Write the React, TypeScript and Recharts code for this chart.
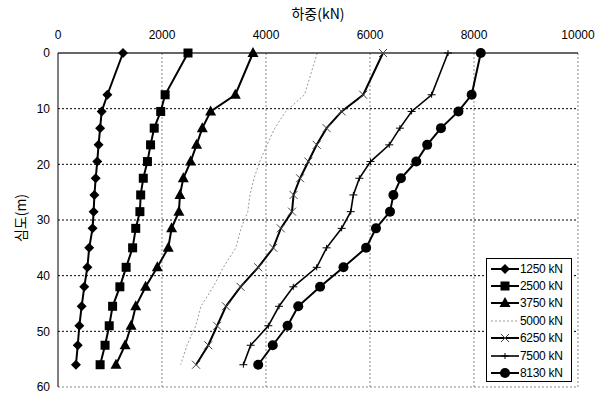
import React from "react";
import {
  CartesianGrid,
  Legend,
  Line,
  LineChart,
  ReferenceLine,
  XAxis,
  YAxis,
} from "recharts";

// depth (m) of each gauge level, shared by every load step
const depths = [0, 7.5, 10.5, 13.5, 16.5, 19.5, 22.5, 25.5, 28.5, 31.5, 35, 38.5, 42, 45.5, 49, 52.5, 56];

// axial force (kN) at each depth, one array per applied head load
const load1250 = [1250, 950, 840, 810, 780, 755, 725, 700, 685, 665, 600, 565, 505, 455, 410, 380, 345];
const load2500 = [2500, 2060, 1975, 1850, 1780, 1720, 1640, 1590, 1575, 1495, 1435, 1310, 1190, 1050, 985, 905, 810];
const load3750 = [3750, 3410, 2935, 2775, 2665, 2550, 2410, 2345, 2325, 2185, 2120, 1910, 1685, 1495, 1405, 1290, 1115];
const load5000 = [4985, 4740, 4380, 4170, 4020, 3880, 3770, 3690, 3650, 3520, 3420, 3180, 2985, 2750, 2650, 2480, 2360];
const load6250 = [6250, 5870, 5455, 5165, 4975, 4815, 4655, 4530, 4500, 4285, 4140, 3850, 3510, 3230, 3060, 2890, 2655];
const load7500 = [7500, 7185, 6800, 6575, 6370, 6010, 5795, 5680, 5630, 5455, 5165, 4975, 4525, 4250, 4045, 3705, 3565];
const load8130 = [8130, 7955, 7700, 7365, 7100, 6890, 6595, 6450, 6385, 6115, 5925, 5490, 5040, 4620, 4415, 4130, 3850];

const seriesLabels = ["1250 kN", "2500 kN", "3750 kN", "5000 kN", "6250 kN", "7500 kN", "8130 kN"];
const xTicks = [0, 2000, 4000, 6000, 8000, 10000];
const yTicks = [0, 10, 20, 30, 40, 50, 60];

const FONT = "'Liberation Sans', Arial, sans-serif";
const KFONT = "'Noto Sans CJK KR', 'Noto Sans', sans-serif";

type MarkerKind = "diamond" | "square" | "triangle" | "none" | "cross" | "plus" | "circle";

interface SeriesStyle {
  key: string;
  label: string;
  marker: MarkerKind;
  stroke: string;
  width: number;
  dash?: string;
}

const seriesStyles: SeriesStyle[] = [
  { key: "s1250", label: seriesLabels[0], marker: "diamond", stroke: "#000", width: 2 },
  { key: "s2500", label: seriesLabels[1], marker: "square", stroke: "#000", width: 2 },
  { key: "s3750", label: seriesLabels[2], marker: "triangle", stroke: "#000", width: 2 },
  { key: "s5000", label: seriesLabels[3], marker: "none", stroke: "#9a9a9a", width: 1, dash: "2 2" },
  { key: "s6250", label: seriesLabels[4], marker: "cross", stroke: "#000", width: 2 },
  { key: "s7500", label: seriesLabels[5], marker: "plus", stroke: "#000", width: 1.6 },
  { key: "s8130", label: seriesLabels[6], marker: "circle", stroke: "#000", width: 2 },
];

const loads = [load1250, load2500, load3750, load5000, load6250, load7500, load8130];

// one row per depth; in vertical layout each line takes x from its value and y from depth
const data = depths.map((depth, i) => {
  const row: Record<string, number> = { depth };
  seriesStyles.forEach((s, j) => {
    row[s.key] = loads[j][i];
  });
  return row;
});

function Marker({ kind, cx, cy }: { kind: MarkerKind; cx: number; cy: number }) {
  switch (kind) {
    case "diamond":
      return <polygon points={`${cx},${cy - 5} ${cx + 5},${cy} ${cx},${cy + 5} ${cx - 5},${cy}`} fill="#000" />;
    case "square":
      return <rect x={cx - 4.5} y={cy - 4.5} width={9} height={9} fill="#000" />;
    case "triangle":
      return <polygon points={`${cx},${cy - 6} ${cx + 5.5},${cy + 4} ${cx - 5.5},${cy + 4}`} fill="#000" />;
    case "circle":
      return <circle cx={cx} cy={cy} r={5} fill="#000" />;
    case "cross":
      return (
        <g stroke="#444" strokeWidth={1}>
          <line x1={cx - 4} y1={cy - 4} x2={cx + 4} y2={cy + 4} />
          <line x1={cx - 4} y1={cy + 4} x2={cx + 4} y2={cy - 4} />
        </g>
      );
    case "plus":
      return (
        <g stroke="#000" strokeWidth={1}>
          <line x1={cx - 4} y1={cy} x2={cx + 4} y2={cy} />
          <line x1={cx} y1={cy - 3} x2={cx} y2={cy + 3} />
        </g>
      );
    default:
      return null;
  }
}

function makeDot(kind: MarkerKind) {
  return (props: any) => {
    const { cx, cy, index } = props;
    if (cx == null || cy == null) return <g key={`${kind}-${index}`} />;
    return (
      <g key={`${kind}-${index}`}>
        <Marker kind={kind} cx={cx} cy={cy} />
      </g>
    );
  };
}

function XTitle(props: any) {
  const vb = props.viewBox || { x: 58, width: 520 };
  return (
    <text x={vb.x + vb.width / 2} y={19} textAnchor="middle" fontFamily={KFONT} fontSize={14} fill="#000">
      하중(kN)
    </text>
  );
}

function YTitle() {
  return (
    <text
      x={20}
      y={218}
      transform="rotate(-90 20 218)"
      textAnchor="middle"
      dominantBaseline="central"
      fontFamily={KFONT}
      fontSize={14}
      fill="#000"
    >
      심도(m)
    </text>
  );
}

function LegendBox() {
  return (
    <div
      style={{
        border: "1px solid #000",
        background: "#fff",
        width: 86,
        height: 124,
        boxSizing: "border-box",
        paddingTop: 1,
        fontFamily: FONT,
        fontSize: 12,
        color: "#000",
      }}
    >
      {seriesStyles.map((s) => (
        <div key={s.key} style={{ display: "flex", alignItems: "center", height: 17.4 }}>
          <svg width={33} height={12} style={{ display: "block" }}>
            <line
              x1={4}
              y1={6}
              x2={32}
              y2={6}
              stroke={s.stroke}
              strokeWidth={s.width}
              strokeDasharray={s.dash}
            />
            <Marker kind={s.marker} cx={18} cy={6} />
          </svg>
          <span style={{ whiteSpace: "nowrap", letterSpacing: -0.3 }}>{s.label}</span>
        </div>
      ))}
    </div>
  );
}

export default function App() {
  return (
    <div style={{ position: "absolute", left: 0, top: 0, background: "#fff" }}>
      <LineChart
        width={595}
        height={396}
        data={data}
        layout="vertical"
        margin={{ top: 23, right: 17, bottom: 9, left: 0 }}
      >
        <CartesianGrid
          horizontal={false}
          verticalValues={[2000, 4000, 6000, 8000, 10000]}
          stroke="#8a8a8a"
          strokeDasharray="2 2"
        />
        <CartesianGrid
          vertical={false}
          horizontalValues={[10, 20, 30, 40, 50]}
          stroke="#000"
          strokeDasharray="2 2"
        />
        <ReferenceLine y={60} stroke="#8a8a8a" strokeDasharray="2 2" />
        <XAxis
          type="number"
          orientation="top"
          domain={[0, 10000]}
          ticks={xTicks}
          height={30}
          tickSize={0}
          tickMargin={14}
          axisLine={{ stroke: "#333", strokeWidth: 1.5 }}
          tick={{ fill: "#000", fontSize: 12, fontFamily: FONT }}
          label={<XTitle />}
        />
        <YAxis
          type="number"
          dataKey="depth"
          domain={[0, 60]}
          ticks={yTicks}
          width={58}
          tickSize={0}
          tickMargin={8}
          axisLine={{ stroke: "#000" }}
          tick={{ fill: "#000", fontSize: 12, fontFamily: FONT }}
          label={<YTitle />}
        />
        {seriesStyles.map((s) => (
          <Line
            key={s.key}
            dataKey={s.key}
            name={s.label}
            stroke={s.stroke}
            strokeWidth={s.width}
            strokeDasharray={s.dash}
            dot={makeDot(s.marker)}
            activeDot={false}
            isAnimationActive={false}
          />
        ))}
        <Legend
          layout="horizontal"
          align="center"
          verticalAlign="middle"
          content={<LegendBox />}
          wrapperStyle={{ left: 486, top: 258, width: 86, height: 124 }}
        />
      </LineChart>
    </div>
  );
}
